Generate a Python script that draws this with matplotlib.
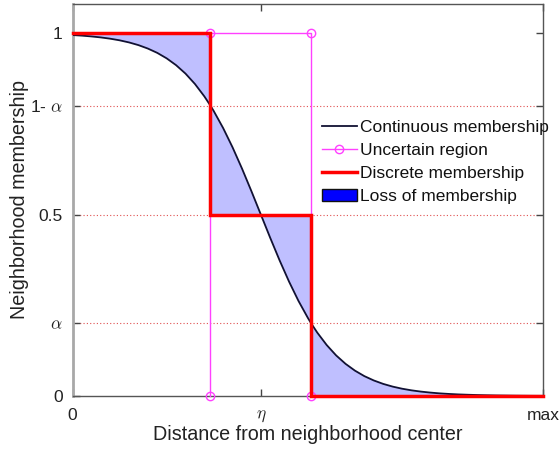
import numpy as np
import matplotlib
matplotlib.use("Agg")
import matplotlib.pyplot as plt
from matplotlib.patches import Patch
from matplotlib.lines import Line2D

plt.rcParams['font.family'] = ['Liberation Sans', 'DejaVu Sans']
plt.rcParams['mathtext.fontset'] = 'cm'

# distance (fraction of max) and continuous membership values
dist = [0.00, 0.02, 0.04, 0.06, 0.08, 0.10, 0.12, 0.14, 0.16, 0.18,
        0.20, 0.22, 0.24, 0.26, 0.28, 0.293, 0.30, 0.32, 0.34, 0.36, 0.38,
        0.40, 0.42, 0.44, 0.46, 0.48, 0.50, 0.507, 0.52, 0.54, 0.56, 0.58,
        0.60, 0.62, 0.64, 0.66, 0.68, 0.70, 0.72, 0.74, 0.76, 0.78,
        0.80, 0.82, 0.84, 0.86, 0.88, 0.90, 0.92, 0.94, 0.96, 0.98, 1.00]
membership = [0.9944, 0.9928, 0.9906, 0.9879, 0.9844, 0.9799, 0.9741, 0.9667, 0.9572, 0.9453,
              0.9302, 0.9114, 0.8882, 0.8597, 0.8255, 0.8000, 0.7850, 0.7381, 0.6850, 0.6267, 0.5644,
              0.5000, 0.4356, 0.3733, 0.3150, 0.2619, 0.2150, 0.2000, 0.1745, 0.1403, 0.1118, 0.0886,
              0.0698, 0.0547, 0.0428, 0.0333, 0.0259, 0.0201, 0.0156, 0.0121, 0.0094, 0.0072,
              0.0056, 0.0043, 0.0034, 0.0026, 0.0020, 0.0015, 0.0012, 0.0009, 0.0007, 0.0005, 0.0004]

alpha_level = 0.2
eta = 0.4
lower_edge = 0.293   # start of the uncertain region
upper_edge = 0.507   # end of the uncertain region
x_max = 1.0

# discrete (stepped) membership
step_x = [0.0, lower_edge, lower_edge, upper_edge, upper_edge, x_max]
step_y = [1.0, 1.0, 0.5, 0.5, 0.0, 0.0]

# uncertain region outline
region_x = [lower_edge, lower_edge, upper_edge, upper_edge]
region_y = [0.0, 1.0, 1.0, 0.0]

ytick_vals = [0.0, alpha_level, 0.5, 1 - alpha_level, 1.0]
ytick_labels = ['0', r'$\alpha$', '0.5', r'1- $\alpha$', '1']
xtick_vals = [0.0, eta, x_max]
xtick_labels = ['0', r'$\eta$', 'max']

fig = plt.figure(figsize=(5.6, 4.58), dpi=100)
ax = fig.add_axes([0.1295, 0.1354, 0.8406, 0.8559])

d = np.array(dist)
m = np.array(membership)

# shaded loss between continuous and discrete membership
segments = [(0.0, lower_edge, 1.0), (lower_edge, upper_edge, 0.5), (upper_edge, x_max, 0.0)]
for a, b, level in segments:
    sel = (d >= a - 1e-9) & (d <= b + 1e-9)
    ax.fill_between(d[sel], m[sel], level, facecolor=(0.75, 0.75, 1.0),
                    edgecolor='none', zorder=1)

# dotted reference levels
for lv in [alpha_level, 0.5, 1 - alpha_level]:
    ax.axhline(lv, color='#e05050', lw=0.8, ls=(0, (1, 2)), zorder=0.5)

ax.plot(d, m, color='#111133', lw=1.3, zorder=3)
ax.plot(region_x, region_y, color='#ff40ff', lw=1.0, marker='o', ms=6,
        mfc='none', mec='#ff40ff', mew=1.0, zorder=4, clip_on=False)
ax.plot(step_x, step_y, color='#ff0000', lw=2.5, zorder=5, clip_on=False,
        solid_joinstyle='miter')

ax.set_xlim(0, x_max)
ax.set_ylim(0, 1.08)
ax.set_yticks(ytick_vals)
ax.set_yticklabels(ytick_labels)
ax.set_xticks(xtick_vals)
ax.set_xticklabels(xtick_labels)
ax.tick_params(direction='in', length=5, width=1, colors='#444444',
               labelcolor='#222222', labelsize=12.5, top=True, right=True, pad=7)
ax.tick_params(axis='x', pad=9)

for side in ['top', 'right', 'bottom']:
    ax.spines[side].set_color('#555555')
    ax.spines[side].set_linewidth(1.0)
ax.spines['left'].set_color('#a8a8a8')
ax.spines['left'].set_linewidth(2.0)

ax.set_xlabel('Distance from neighborhood center', fontsize=14.2, color='#222222', labelpad=1)
ax.set_ylabel('Neighborhood membership', fontsize=14.2, color='#222222', labelpad=1)

handles = [
    Line2D([], [], color='#111133', lw=1.3),
    Line2D([], [], color='#ff40ff', lw=1.0, marker='o', ms=6, mfc='none', mec='#ff40ff'),
    Line2D([], [], color='#ff0000', lw=2.5),
    Patch(facecolor='#0000ff', edgecolor='#111111', lw=1.0),
]
labels = ['Continuous membership', 'Uncertain region', 'Discrete membership', 'Loss of membership']
leg = ax.legend(handles, labels, loc='upper left', bbox_to_anchor=(0.530, 0.705),
                frameon=False, fontsize=12.5, handlelength=2.0, handletextpad=0.17,
                labelspacing=0.46, borderpad=0, borderaxespad=0)
for t in leg.get_texts():
    t.set_color('#111111')

fig.savefig('out.png', dpi=100)
